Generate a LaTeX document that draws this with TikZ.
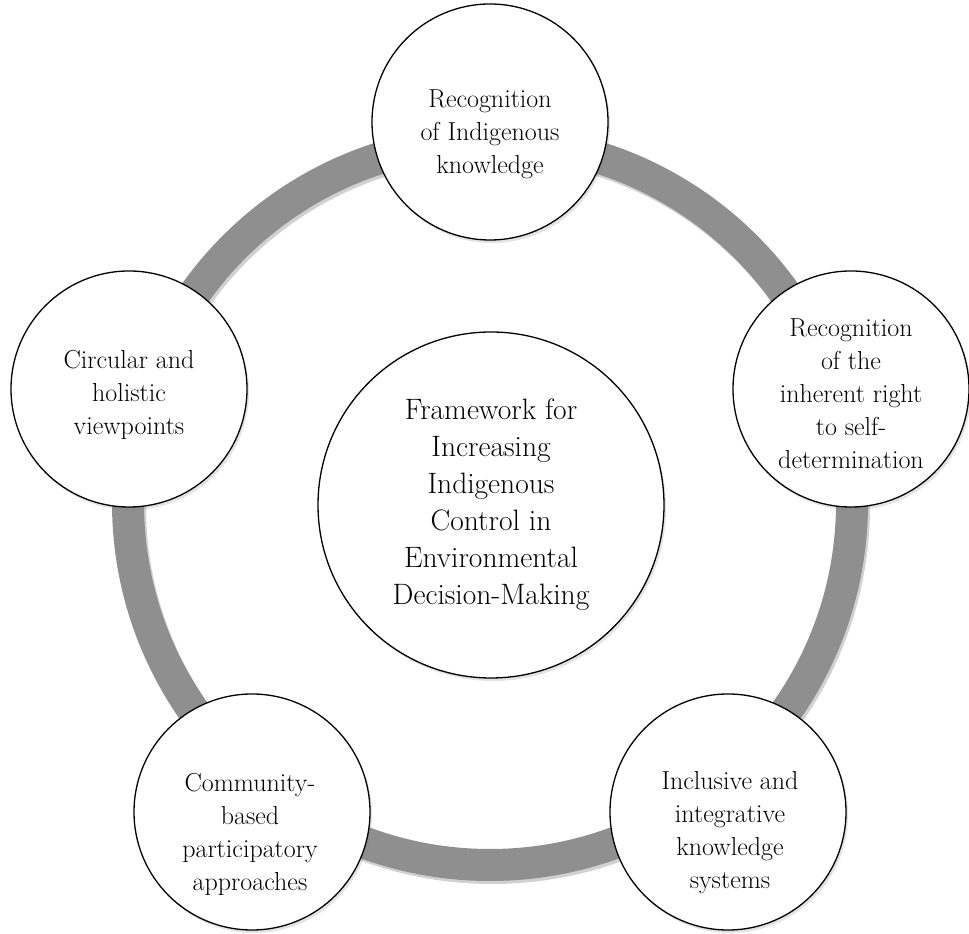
\documentclass[tikz,border=0pt]{standalone}
\usepackage{fontspec}
\usetikzlibrary{shadows}
\definecolor{ringgray}{HTML}{8F8F8F}
\tikzset{
  bubble/.style={circle, draw=black, line width=1.3pt, fill=white,
    minimum size=236pt, inner sep=0pt,
    drop shadow={opacity=0.22, shadow xshift=2pt, shadow yshift=-3pt}},
  caption/.style={align=center, inner sep=0pt, font=\fontsize{26}{33}\selectfont},
  hub/.style={bubble, minimum size=346pt, align=center, font=\fontsize{29.5}{37}\selectfont}
}

\begin{document}
\begin{tikzpicture}[x=1pt, y=1pt]
  \useasboundingbox (0,0) rectangle (969,934);
  \coordinate (mid) at (490,431);
  \path (mid) ++(1, -2) coordinate (pcent);
  \path (mid) ++(0, 381) coordinate (ptop);
  \path (mid) ++(361, 114) coordinate (pright);
  \path (mid) ++(238, -309) coordinate (pbr);
  \path (mid) ++(-238, -309) coordinate (pbl);
  \path (mid) ++(-361, 114) coordinate (pleft);

  \draw[line width=32pt, black, opacity=0.18] ([shift={(2,-3)}]mid) circle[radius=362];
  \draw[line width=32pt, ringgray] (mid) circle[radius=362];

  \node[hub] (frame) at (pcent) {Framework for\\Increasing\\Indigenous\\Control in\\Environmental\\Decision-Making};

  \node[bubble] (indig) at (ptop) {};
  \node[bubble] (selfdet) at (pright) {};
  \node[bubble] (inclus) at (pbr) {};
  \node[bubble] (commun) at (pbl) {};
  \node[bubble] (circul) at (pleft) {};

  \node[caption] (indigtxt) at ([yshift=-12pt]indig.center) {Recognition\\of Indigenous\\knowledge};
  \node[caption] (selfdettxt) at ([yshift=-5pt]selfdet.center) {Recognition\\of the\\inherent right\\to self-\\determination};
  \node[caption] (inclustxt) at ([xshift=2pt, yshift=-21pt]inclus.center) {Inclusive and\\integrative\\knowledge\\systems};
  \node[caption] (communtxt) at ([xshift=-2pt, yshift=-22pt]commun.center) {Community-\\based\\participatory\\approaches};
  \node[caption] (circultxt) at ([yshift=-6pt]circul.center) {Circular and\\holistic\\viewpoints};
\end{tikzpicture}
\end{document}
